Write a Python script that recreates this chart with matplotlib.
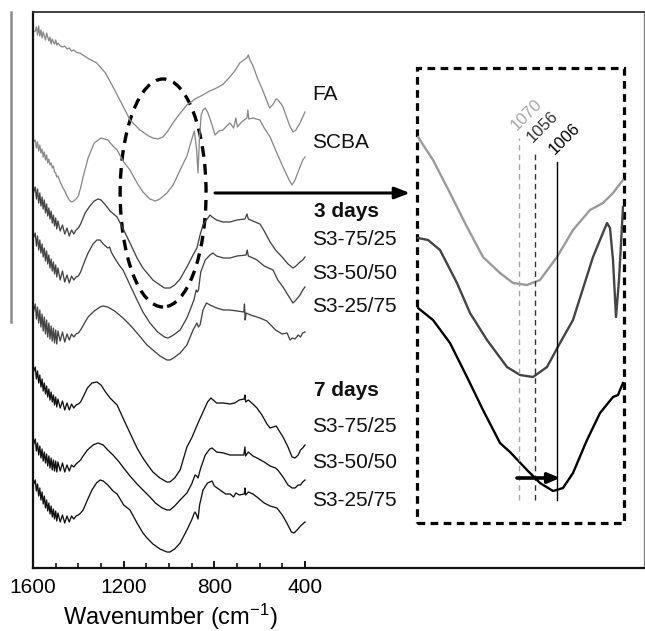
import matplotlib
matplotlib.use("Agg")
import matplotlib.pyplot as plt
from matplotlib.patches import Ellipse, Rectangle
from matplotlib.lines import Line2D

plt.rcParams['font.family'] = ['Liberation Sans', 'DejaVu Sans']
plt.rcParams['mathtext.fontset'] = 'custom'
plt.rcParams['mathtext.rm'] = 'Liberation Sans'
plt.rcParams['mathtext.it'] = 'Liberation Sans:italic'

# ---------------- FTIR spectra (offset transmittance, a.u.) ----------------
# noisy high-wavenumber region shares one wavenumber grid
noisy_wn = [1598, 1590, 1585, 1580, 1575, 1570, 1565, 1560, 1555, 1550,
            1545, 1540, 1535, 1530, 1525, 1520, 1515, 1510, 1505, 1500,
            1495, 1490, 1480, 1470, 1460, 1450, 1440, 1430, 1420, 1410, 1400]

fa_noisy = [536, 537, 541, 533, 542, 532, 538, 530, 536, 532, 528, 535, 531, 527, 531, 524,
            529, 526, 524, 528, 523, 525, 522, 521, 522, 519, 520, 517, 518, 516, 515]
fa_wn = [1393, 1360, 1319, 1280, 1247, 1210, 1172, 1128, 1090, 1071, 1050, 1027, 1005, 983, 950,
         921, 885, 851, 820, 790, 760, 732, 710, 688, 670, 657, 650, 643, 631, 610, 587, 570, 556,
         540, 527, 519, 505, 497, 480, 465, 453, 440, 422, 410, 400]
fa_val = [515, 510, 505, 495, 481, 465, 448, 438, 432, 430, 429, 431, 437, 445, 455, 463, 469,
          473, 477, 480, 484, 491, 497, 505, 508, 510, 513, 508, 503, 490, 478, 468, 460, 464,
          469, 468, 464, 461, 450, 441, 436, 438, 445, 451, 456]

scba_noisy = [426, 428, 420, 426, 417, 423, 415, 419, 411, 416, 408, 413, 405, 409, 403, 405,
              400, 402, 396, 395, 391, 392, 386, 381, 377, 372, 368, 366, 367, 369, 372]
scba_wn = [1390, 1379, 1357, 1330, 1300, 1270, 1247, 1229, 1200, 1172, 1141, 1115, 1084, 1060,
           1040, 1009, 982, 951, 921, 894, 888, 878, 872, 866, 858, 850, 840, 828, 810, 797, 780,
           762, 745, 731, 715, 705, 698, 680, 656, 652, 648, 630, 599, 580, 554, 530, 497, 470,
           457, 444, 422, 410, 400]
scba_val = [380, 391, 410, 425, 430, 428, 422, 418, 406, 398, 385, 376, 369, 367, 369, 375, 383,
            398, 412, 433, 437, 418, 395, 428, 453, 458, 460, 455, 443, 433, 437, 438, 442, 445,
            440, 450, 441, 446, 450, 458, 449, 450, 448, 440, 431, 418, 401, 388, 383, 388, 401,
            408, 411]

d3_7525_noisy = [375, 381, 369, 379, 365, 375, 362, 371, 359, 368, 355, 364, 352, 360, 349, 357,
                 345, 353, 342, 350, 339, 347, 337, 343, 334, 340, 332, 338, 334, 338, 340]
d3_7525_wn = [1390, 1370, 1349, 1330, 1313, 1300, 1280, 1260, 1229, 1200, 1172, 1141, 1115, 1097,
              1071, 1040, 1020, 996, 975, 951, 921, 894, 877, 863, 850, 835, 819, 810, 790, 762,
              731, 700, 665, 656, 650, 620, 599, 580, 554, 530, 497, 475, 453, 440, 422, 410, 400]
d3_7525_val = [344, 355, 362, 367, 369, 368, 363, 357, 351, 338, 325, 310, 300, 295, 288, 283,
               280, 280, 283, 289, 301, 313, 320, 333, 343, 348, 353, 351, 348, 346, 346, 348,
               349, 354, 349, 346, 344, 337, 326, 318, 310, 304, 300, 302, 306, 308, 311]

d3_5050_noisy = [330, 335, 322, 332, 318, 328, 315, 324, 311, 320, 307, 317, 304, 313, 300, 309,
                 297, 306, 294, 303, 291, 300, 288, 297, 286, 293, 285, 292, 288, 291, 292]
d3_5050_wn = [1390, 1370, 1357, 1335, 1318, 1304, 1290, 1270, 1262, 1255, 1240, 1220, 1203, 1172,
              1141, 1115, 1084, 1050, 1020, 1004, 980, 951, 921, 907, 890, 880, 875, 870, 860,
              840, 819, 806, 790, 760, 731, 700, 660, 655, 650, 630, 612, 580, 541, 520, 497,
              470, 453, 440, 422, 410, 400]
d3_5050_val = [296, 308, 315, 324, 328, 328, 324, 320, 321, 316, 310, 303, 298, 283, 268, 256,
               245, 236, 231, 230, 233, 238, 250, 258, 268, 278, 276, 278, 296, 308, 313, 315,
               312, 310, 310, 312, 313, 318, 312, 310, 308, 302, 298, 288, 281, 271, 265, 268,
               273, 278, 281]

d3_2575_noisy = [256, 264, 249, 261, 245, 258, 241, 254, 237, 251, 234, 248, 231, 245, 229, 242,
                 227, 240, 225, 238, 224, 237, 227, 236, 226, 234, 228, 234, 231, 234, 235]
d3_2575_wn = [1390, 1370, 1357, 1330, 1304, 1291, 1270, 1240, 1203, 1172, 1141, 1097, 1071, 1040,
              1009, 996, 980, 951, 921, 894, 877, 870, 863, 850, 835, 819, 790, 760, 731, 700,
              670, 667, 664, 660, 640, 599, 568, 530, 500, 479, 466, 456, 444, 430, 420, 410, 400]
d3_2575_val = [238, 246, 251, 257, 261, 262, 261, 257, 250, 243, 235, 223, 218, 212, 208, 208,
               210, 215, 223, 238, 245, 241, 243, 258, 265, 263, 260, 258, 258, 257, 256, 264,
               248, 255, 253, 250, 247, 238, 234, 235, 228, 230, 229, 233, 231, 235, 236]

d7_7525_noisy = [196, 201, 189, 197, 185, 193, 181, 189, 177, 185, 174, 182, 171, 179, 168, 176,
                 166, 173, 163, 171, 161, 169, 160, 167, 158, 165, 158, 164, 160, 163, 164]
d7_7525_wn = [1390, 1379, 1360, 1340, 1318, 1300, 1280, 1260, 1229, 1203, 1172, 1141, 1115, 1097,
              1071, 1040, 1010, 996, 975, 951, 938, 921, 900, 885, 870, 850, 830, 815, 805, 790,
              760, 731, 710, 690, 668, 665, 662, 650, 630, 612, 590, 568, 554, 540, 527, 519,
              497, 475, 457, 444, 430, 420, 410, 400]
d7_7525_val = [166, 171, 180, 185, 186, 183, 176, 170, 163, 150, 135, 120, 110, 104, 96, 90, 86,
               86, 90, 98, 108, 121, 130, 138, 146, 156, 166, 170, 168, 165, 165, 164, 165, 168,
               169, 173, 166, 168, 164, 160, 153, 144, 140, 141, 142, 139, 131, 121, 111, 110,
               113, 118, 120, 123]

d7_5050_noisy = [123, 129, 117, 125, 113, 122, 110, 119, 107, 116, 105, 114, 102, 112, 100, 110,
                 98, 108, 97, 107, 96, 106, 97, 105, 96, 103, 97, 103, 101, 104, 106]
d7_5050_wn = [1390, 1379, 1360, 1335, 1313, 1290, 1270, 1247, 1220, 1200, 1172, 1141, 1115, 1084,
              1060, 1030, 1009, 996, 975, 951, 921, 900, 885, 878, 872, 860, 840, 820, 810, 790,
              760, 731, 700, 670, 665, 662, 650, 630, 612, 580, 554, 530, 520, 497, 475, 457,
              444, 430, 420, 410, 400]
d7_5050_val = [108, 112, 118, 123, 125, 123, 118, 113, 106, 100, 92, 84, 78, 71, 65, 60, 58, 58,
               62, 68, 75, 84, 93, 92, 90, 100, 113, 119, 120, 116, 115, 113, 113, 113, 121, 112,
               116, 112, 110, 106, 102, 100, 98, 91, 83, 80, 80, 83, 83, 86, 88]

d7_2575_noisy = [83, 88, 77, 84, 72, 80, 68, 76, 64, 72, 60, 68, 57, 65, 54, 62, 51, 59, 49, 57,
                 47, 55, 46, 53, 45, 52, 46, 52, 49, 52, 53]
d7_2575_wn = [1390, 1379, 1360, 1340, 1320, 1304, 1290, 1270, 1247, 1229, 1200, 1172, 1141, 1115,
              1097, 1071, 1040, 1009, 996, 975, 951, 921, 900, 890, 885, 878, 872, 865, 850, 830,
              810, 800, 775, 750, 730, 715, 705, 690, 668, 665, 662, 650, 630, 612, 580, 554,
              524, 500, 480, 460, 448, 435, 420, 410, 400]
d7_2575_val = [55, 58, 68, 78, 85, 88, 87, 83, 77, 74, 63, 58, 45, 35, 30, 24, 19, 16, 16, 19,
               25, 38, 48, 54, 56, 53, 49, 63, 78, 85, 87, 82, 78, 74, 74, 71, 75, 73, 74, 80, 73,
               76, 74, 71, 65, 62, 60, 53, 45, 36, 35, 38, 42, 44, 46]

spectra = [
    (fa_noisy, fa_wn, fa_val, '#8a8a8a'),
    (scba_noisy, scba_wn, scba_val, '#8a8a8a'),
    (d3_7525_noisy, d3_7525_wn, d3_7525_val, '#444444'),
    (d3_5050_noisy, d3_5050_wn, d3_5050_val, '#444444'),
    (d3_2575_noisy, d3_2575_wn, d3_2575_val, '#444444'),
    (d7_7525_noisy, d7_7525_wn, d7_7525_val, '#111111'),
    (d7_5050_noisy, d7_5050_wn, d7_5050_val, '#111111'),
    (d7_2575_noisy, d7_2575_wn, d7_2575_val, '#111111'),
]

# sample labels: (text, offset level, bold)
label_text = ['FA', 'SCBA', '3 days', 'S3-75/25', 'S3-50/50', 'S3-25/75',
              '7 days', 'S3-75/25', 'S3-50/50', 'S3-25/75']
label_level = [473, 425, 356, 328, 294, 261, 178, 141, 105, 68]
label_bold = [False, False, True, False, False, False, True, False, False, False]

# Si-O-T band zoom (schematic, local units)
zoom_fa_x = [1, 16, 33, 50, 66, 83, 96, 110, 123, 140, 156, 173, 186, 196, 206]
zoom_fa_y = [386, 363, 330, 296, 266, 250, 240, 238, 243, 266, 293, 313, 320, 330, 343]
zoom_d3_x = [1, 11, 23, 40, 53, 70, 90, 103, 116, 130, 143, 156, 176, 190, 193, 196, 199, 202, 206]
zoom_d3_y = [285, 283, 273, 240, 210, 183, 156, 148, 146, 156, 180, 203, 266, 300, 295, 263,
             206, 243, 316]
zoom_d7_x = [1, 16, 33, 50, 66, 83, 93, 110, 123, 136, 146, 156, 170, 183, 196, 201, 203, 206]
zoom_d7_y = [215, 203, 180, 146, 113, 80, 71, 53, 40, 32, 35, 50, 83, 110, 126, 128, 133, 140]

band_labels = ['1070', '1056', '1006']
band_pos = [102, 118, 140]
band_top = [385, 373, 361]
band_colors = ['#a6a6a6', '#333333', '#000000']
band_styles = [(0, (4, 3)), (0, (4, 3)), '-']

# ---------------- figure ----------------
W, H = 645, 631
fig = plt.figure(figsize=(W / 100, H / 100), dpi=100)
ax = fig.add_axes([33 / W, (H - 568) / H, (644 - 33) / W, (568 - 12) / H])

for noisy, wn, val, col in spectra:
    ax.plot(noisy_wn + wn, noisy + val, color=col, lw=0.95, solid_joinstyle='round')

ax.set_xlim(1600, 1600 - (644 - 33) * 1200 / 272)
ax.set_ylim(0, 556)
ax.set_xticks([1600, 1200, 800, 400])
ax.set_xticks(list(range(1600, 399, -100)), minor=True)
ax.set_yticks([])
ax.tick_params(axis='x', which='major', direction='in', length=5, width=1.3,
               labelsize=15, pad=7)
ax.tick_params(axis='x', which='minor', direction='in', length=3.5, width=1.1)
ax.set_xlabel('Wavenumber (cm$^{-1}$)', fontsize=17)
ax.xaxis.set_label_coords((170 - 33) / (644 - 33), -0.061)

for side in ['left', 'bottom']:
    ax.spines[side].set_linewidth(1.6)
    ax.spines[side].set_color('#111111')
ax.spines['top'].set_linewidth(1.3)
ax.spines['top'].set_color('#333333')
ax.spines['right'].set_linewidth(0.9)
ax.spines['right'].set_color('#777777')

for txt, lvl, bold in zip(label_text, label_level, label_bold):
    ax.text(360 if bold else 367, lvl, txt, fontsize=15,
            fontweight='bold' if bold else 'normal', va='center', ha='left', color='#111111')

# highlighted band and arrow towards the zoom
ax.add_patch(Ellipse((1026, 375), 379, 228, fill=False, ec='black', lw=2.4,
                     ls=(0, (3.2, 2.2))))
ax.annotate('', xy=(-63, 375), xytext=(797, 375),
            arrowprops=dict(arrowstyle='-|>,head_length=0.9,head_width=0.35',
                            color='black', lw=2.2, shrinkA=0, shrinkB=0))

# scale bar on the far left
fig.add_artist(Line2D([11 / W, 11 / W], [(H - 12) / H, (H - 322) / H],
                      transform=fig.transFigure, color='#8c8c8c', lw=1.8))

# zoomed band
axz = fig.add_axes([417 / W, (H - 523) / H, (624 - 417) / W, (523 - 68) / H])
axz.set_xlim(0, 207)
axz.set_ylim(0, 455)
axz.axis('off')
axz.add_patch(Rectangle((0, 0), 1, 1, transform=axz.transAxes, fill=False, ec='black',
                        lw=2.3, ls=(0, (2.4, 1.7)), clip_on=False))
axz.plot(zoom_fa_x, zoom_fa_y, color='#9a9a9a', lw=1.7)
axz.plot(zoom_d3_x, zoom_d3_y, color='#444444', lw=1.7)
axz.plot(zoom_d7_x, zoom_d7_y, color='#000000', lw=1.7)
for lab, xpos, top, col, ls in zip(band_labels, band_pos, band_top, band_colors, band_styles):
    axz.plot([xpos, xpos], [23, top], color=col, lw=1.0, ls=ls)
    axz.text(xpos - 2, top + 7, lab, rotation=45, rotation_mode='anchor', ha='left',
             va='baseline', fontsize=12, color=col)
axz.annotate('', xy=(143, 45), xytext=(100, 45),
             arrowprops=dict(arrowstyle='-|>,head_length=0.7,head_width=0.3',
                             color='black', lw=2.6, shrinkA=0, shrinkB=0))

fig.savefig('out.png', dpi=100)
